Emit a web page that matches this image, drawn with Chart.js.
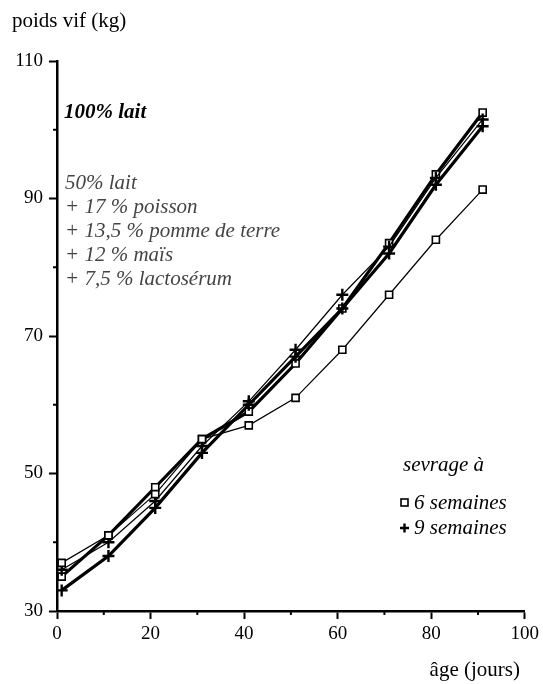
<!DOCTYPE html>
<html>
<head>
<meta charset="utf-8">
<script src="https://cdn.jsdelivr.net/npm/chart.js@4/dist/chart.umd.min.js"></script>
<style>
  html, body { margin: 0; padding: 0; background: #fff; }
  #wrap { width: 543px; height: 684px; position: relative; }
</style>
</head>
<body>
<div id="wrap"><canvas id="chart"></canvas></div>
<script>
// age in days
const days = [1, 11, 21, 31, 41, 51, 61, 71, 81, 91];
// 100% lait
const lait6 = [35, 41, 48, 55, 59, 66, 74, 83.5, 93.5, 102.5];
const lait9 = [33, 38, 45, 53, 60, 67, 74, 82, 92, 100.5];
// 50% lait + mix
const mix6 = [37, 41, 47, 55, 57, 61, 68, 76, 84, 91.3];
const mix9 = [36, 40, 46, 54, 60.5, 68, 76, 83, 93, 101.5];

const xTicks = [0, 20, 40, 60, 80, 100];
const yTicks = [30, 50, 70, 90, 110];

const mixLines = ['50% lait', '+ 17 % poisson', '+ 13,5 % pomme de terre', '+ 12 % maïs', '+ 7,5 % lactosérum'];

const FONT = '"Liberation Serif", "DejaVu Serif", serif';

function pts(ys) {
    return days.map((d, i) => ({ x: d, y: ys[i] }));
}

function makeSet(label, ys, thick, style) {
    return {
        label: label,
        data: pts(ys),
        borderColor: '#000',
        borderWidth: thick ? 3.2 : 1.2,
        pointStyle: style,
        pointRadius: style === 'rect' ? 5 : 6,
        pointBorderWidth: style === 'rect' ? 1.6 : 2.4,
        pointBackgroundColor: '#fff',
        pointBorderColor: '#000',
        tension: 0
    };
}

// extras: minor ticks, axis titles, labels and legend
const extras = {
    id: 'extras',
    afterDraw(chart) {
        const ctx = chart.ctx;
        const xs = chart.scales.x, ys = chart.scales.y;
        ctx.save();
        ctx.strokeStyle = '#000';
        ctx.lineWidth = 2;
        for (let v = 10; v < 100; v += 20) {
            const px = xs.getPixelForValue(v);
            ctx.beginPath();
            ctx.moveTo(px, ys.bottom);
            ctx.lineTo(px, ys.bottom + 4);
            ctx.stroke();
        }
        for (let v = 40; v < 110; v += 20) {
            const py = ys.getPixelForValue(v);
            ctx.beginPath();
            ctx.moveTo(xs.left, py);
            ctx.lineTo(xs.left - 4, py);
            ctx.stroke();
        }

        ctx.fillStyle = '#000';
        ctx.textBaseline = 'middle';
        ctx.textAlign = 'left';
        ctx.font = '21px ' + FONT;
        ctx.fillText('poids vif (kg)', 12, 21);
        ctx.textAlign = 'right';
        ctx.fillText('âge (jours)', 520, 670);

        ctx.textAlign = 'left';
        ctx.font = 'italic bold 21px ' + FONT;
        ctx.fillText('100% lait', 64, 113);

        ctx.font = 'italic 21px ' + FONT;
        ctx.fillStyle = '#444';
        mixLines.forEach((t, i) => ctx.fillText(t, 65, 183 + i * 24));

        ctx.fillStyle = '#000';
        ctx.fillText('sevrage à', 403, 465);
        ctx.fillText('6 semaines', 414, 503);
        ctx.fillText('9 semaines', 414, 528);

        ctx.lineWidth = 1.6;
        ctx.strokeRect(401, 499, 7, 7);
        ctx.lineWidth = 2.4;
        ctx.beginPath();
        ctx.moveTo(400, 528); ctx.lineTo(409, 528);
        ctx.moveTo(404.5, 523.5); ctx.lineTo(404.5, 532.5);
        ctx.stroke();
        ctx.restore();
    }
};

const ctx = document.getElementById('chart');
new Chart(ctx, {
    type: 'line',
    data: {
        datasets: [
            makeSet('50% lait, 6 semaines', mix6, false, 'rect'),
            makeSet('50% lait, 9 semaines', mix9, false, 'cross'),
            makeSet('100% lait, 9 semaines', lait9, true, 'cross'),
            makeSet('100% lait, 6 semaines', lait6, true, 'rect')
        ]
    },
    options: {
        responsive: true,
        maintainAspectRatio: false,
        animation: false,
        layout: { padding: { left: 0, right: 16, top: 61, bottom: 0 } },
        plugins: {
            legend: { display: false },
            tooltip: { enabled: false }
        },
        scales: {
            x: {
                type: 'linear',
                min: 0,
                max: 100,
                afterBuildTicks(scale) {
                    scale.ticks = xTicks.map(v => ({ value: v }));
                },
                afterFit(scale) { scale.height = 73; },
                ticks: {
                    color: '#000',
                    font: { family: FONT, size: 19 },
                    padding: 4,
                    maxRotation: 0
                },
                grid: { drawOnChartArea: false, tickLength: 8, tickWidth: 2, tickColor: '#000' },
                border: { color: '#000', width: 2.5 }
            },
            y: {
                min: 30,
                max: 110,
                afterBuildTicks(scale) {
                    scale.ticks = yTicks.map(v => ({ value: v }));
                },
                afterFit(scale) { scale.width = 57; },
                ticks: {
                    color: '#000',
                    font: { family: FONT, size: 19 },
                    padding: 6
                },
                grid: { drawOnChartArea: false, tickLength: 8, tickWidth: 2, tickColor: '#000' },
                border: { color: '#000', width: 2.5 }
            }
        }
    },
    plugins: [extras]
});
</script>
</body>
</html>
